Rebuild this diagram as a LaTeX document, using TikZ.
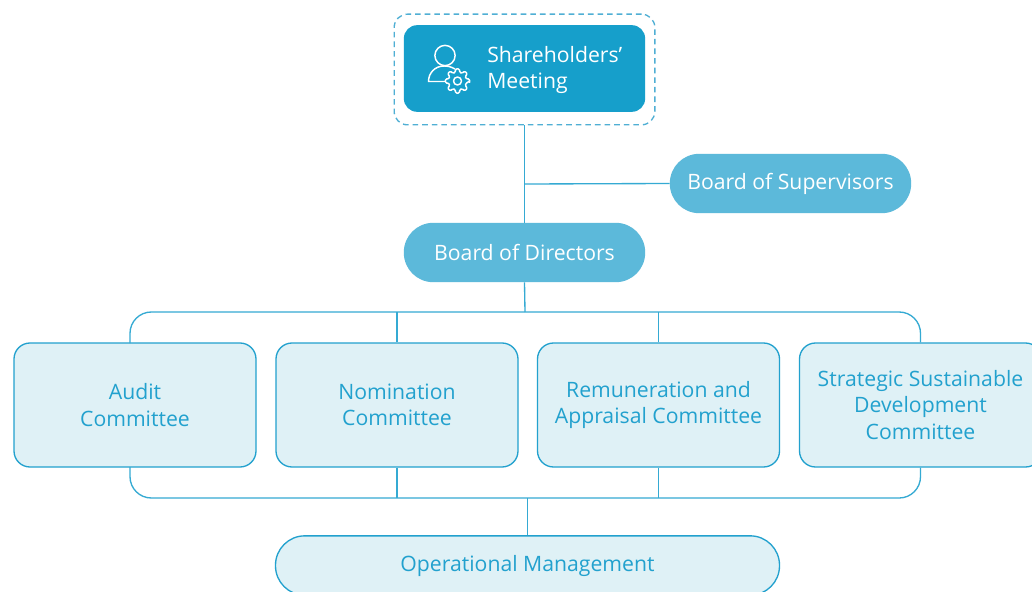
\documentclass[tikz,border=0pt]{standalone}
\usepackage{fontspec}
\setmainfont{Open Sans}
\usetikzlibrary{calc}
\definecolor{deep}{HTML}{169FCB}
\definecolor{pill}{HTML}{5CB9DA}
\definecolor{pale}{HTML}{DFF1F6}
\definecolor{edge}{HTML}{22A1CE}
\definecolor{wire}{HTML}{35AAD3}
\definecolor{dash}{HTML}{4FAFD4}
\newcommand{\PX}{0.75pt}
\tikzset{
  x=0.75pt,y=-0.75pt,
  label text/.style={font=\fontsize{15.9}{19.6}\selectfont,align=center,inner sep=0pt},
  cardbox/.style={label text,draw=edge,line width=1pt,fill=pale,text=edge,rounded corners=12pt,minimum width=181.5pt,minimum height=93pt},
  pillbox/.style={label text,fill=pill,text=white,rounded corners=22pt,minimum width=181pt,minimum height=44.5pt},
  wireline/.style={draw=wire,line width=1pt},
}
\begin{document}
\begin{tikzpicture}
\useasboundingbox (0,0) rectangle (1032,592);
\clip (0,0) rectangle (1032,592);
\fill[white] (0,0) rectangle (1032,592);
% connector coordinates
\coordinate (topbus) at (525,312);
\coordinate (botbus) at (527.5,498);
\coordinate (auditup) at (130,343);
\coordinate (auditdown) at (130,467);
\coordinate (branch) at (525,184);
\coordinate (busup) at (525,312);
% nodes
\node[draw=dash,dashed,dash pattern=on 4.2pt off 3pt,line width=1pt,rounded corners=10pt,minimum width=195.5pt,minimum height=83pt] (frame) at (524.5,69.5) {};
\node[fill=deep,rounded corners=10pt,minimum width=181pt,minimum height=65pt] (meeting) at (524.5,68.5) {};
\node[label text,text=white,align=left,anchor=west] (meetingtext) at (487,70) {Shareholders'\\Meeting};
\node[pillbox] (supervisors) at (790.5,183.5) {Board of Supervisors};
\node[pillbox] (directors) at (524.5,252.5) {Board of Directors};
\node[cardbox] (audit) at (135,405) {Audit\\Committee};
\node[cardbox] (nomination) at (397,405) {Nomination\\Committee};
\node[cardbox] (remuneration) at (658.5,405) {Remuneration and\\Appraisal Committee};
\node[cardbox] (strategic) at (920.5,405) {Strategic Sustainable\\Development\\Committee};
\node[cardbox,rounded corners=22pt,minimum width=378pt,minimum height=44.5pt] (operational) at (527.5,565.5) {Operational Management};
% connectors
\draw[wireline] (frame.south) -- (directors.north);
\draw[wireline] (branch) -- (supervisors.west);
\draw[wireline] (directors.south) -- (busup);
\draw[wireline,rounded corners=16pt] (auditup) |- (topbus) -| (strategic.north);
\draw[wireline] (nomination.north) -- (nomination.north |- topbus);
\draw[wireline] (remuneration.north) -- (remuneration.north |- topbus);
\draw[wireline,rounded corners=16pt] (auditdown) |- (botbus) -| (strategic.south);
\draw[wireline] (nomination.south) -- (nomination.south |- botbus);
\draw[wireline] (remuneration.south) -- (remuneration.south |- botbus);
\draw[wireline] (botbus) -- (operational.north);
% icon
\begin{scope}[white,line width=1.1pt,line cap=round,line join=round]
\draw (445,55.5) circle[radius=7.6pt];
\draw (455,69) .. controls (451,66.5) and (447,66) .. (444,66) .. controls (435,66) and (428.5,73) .. (428.5,81.5) -- (444.5,81.5);
\coordinate (gear) at (457.5,81);
\draw[rounded corners=0.9pt] (gear) ++(0:9.2pt)
  \foreach \a in {0,45,...,315}{
    -- ($(gear)+(\a-9:9.2pt)$) -- ($(gear)+(\a+9:9.2pt)$) -- ($(gear)+(\a+15:6.6pt)$) -- ($(gear)+(\a+30:6.6pt)$)
  } -- cycle;
\draw (gear) circle[radius=3pt];
\end{scope}
\end{tikzpicture}
\end{document}
